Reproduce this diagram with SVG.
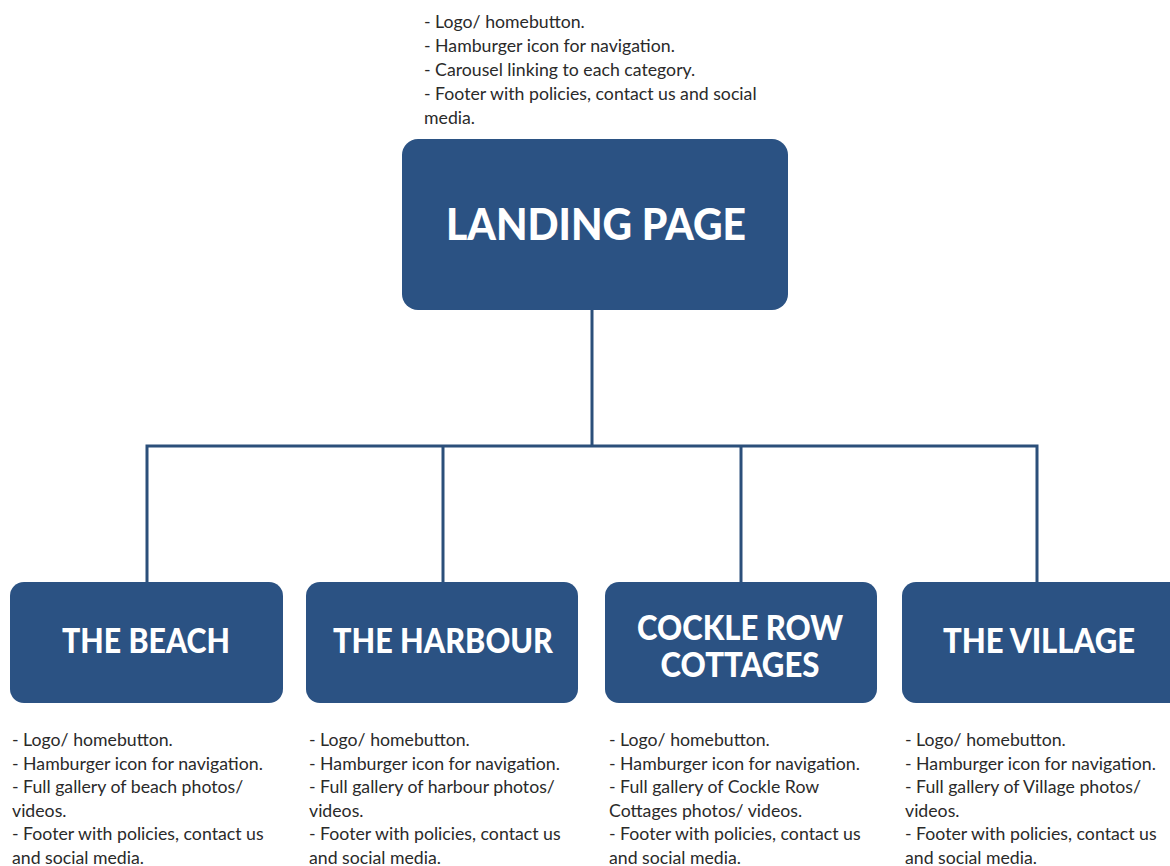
<svg xmlns="http://www.w3.org/2000/svg" width="1170" height="866" viewBox="0 0 1170 866">
  <style>
    .box { fill: #2b5283; }
    .title { fill: #ffffff; font-family: "Lato", "Liberation Sans", sans-serif; font-weight: 900; text-anchor: middle; }
    .note { fill: #2a2a2a; font-family: "Lato", "Liberation Sans", sans-serif; font-size: 17.7px; }
    .link { fill: none; stroke: #2b4f7a; stroke-width: 3; }
  </style>
  <rect width="1170" height="866" fill="#ffffff"/>

  <g id="connectors">
    <path class="link" d="M592 310 V446"/>
    <path class="link" d="M147 582 V446 H1037 V582"/>
    <path class="link" d="M443 446 V582"/>
    <path class="link" d="M741 446 V582"/>
  </g>

  <g id="landing-page">
    <text class="note" x="424">
      <tspan x="424" y="28">- Logo/ homebutton.</tspan>
      <tspan x="424" y="52">- Hamburger icon for navigation.</tspan>
      <tspan x="424" y="76">- Carousel linking to each category.</tspan>
      <tspan x="424" y="100">- Footer with policies, contact us and social</tspan>
      <tspan x="424" y="124">media.</tspan>
    </text>
    <rect class="box" x="402" y="139" width="386" height="171" rx="16"/>
    <text class="title" x="596" y="240" font-size="43" textLength="300" lengthAdjust="spacingAndGlyphs">LANDING PAGE</text>
  </g>

  <g id="the-beach">
    <rect class="box" x="10" y="582" width="273" height="121" rx="14"/>
    <text class="title" x="146" y="653" font-size="35" textLength="168" lengthAdjust="spacingAndGlyphs">THE BEACH</text>
    <text class="note">
      <tspan x="12" y="746">- Logo/ homebutton.</tspan>
      <tspan x="12" y="769.5">- Hamburger icon for navigation.</tspan>
      <tspan x="12" y="793">- Full gallery of beach photos/</tspan>
      <tspan x="12" y="816.5">videos.</tspan>
      <tspan x="12" y="840">- Footer with policies, contact us</tspan>
      <tspan x="12" y="863.5">and social media.</tspan>
    </text>
  </g>

  <g id="the-harbour">
    <rect class="box" x="306" y="582" width="272" height="121" rx="14"/>
    <text class="title" x="443" y="653" font-size="35" textLength="220" lengthAdjust="spacingAndGlyphs">THE HARBOUR</text>
    <text class="note">
      <tspan x="309" y="746">- Logo/ homebutton.</tspan>
      <tspan x="309" y="769.5">- Hamburger icon for navigation.</tspan>
      <tspan x="309" y="793">- Full gallery of harbour photos/</tspan>
      <tspan x="309" y="816.5">videos.</tspan>
      <tspan x="309" y="840">- Footer with policies, contact us</tspan>
      <tspan x="309" y="863.5">and social media.</tspan>
    </text>
  </g>

  <g id="cockle-row-cottages">
    <rect class="box" x="605" y="582" width="272" height="121" rx="14"/>
    <text class="title" x="740" y="640" font-size="34" textLength="206" lengthAdjust="spacingAndGlyphs">COCKLE ROW</text>
    <text class="title" x="740" y="677" font-size="34" textLength="159" lengthAdjust="spacingAndGlyphs">COTTAGES</text>
    <text class="note">
      <tspan x="609" y="746">- Logo/ homebutton.</tspan>
      <tspan x="609" y="769.5">- Hamburger icon for navigation.</tspan>
      <tspan x="609" y="793">- Full gallery of Cockle Row</tspan>
      <tspan x="609" y="816.5">Cottages photos/ videos.</tspan>
      <tspan x="609" y="840">- Footer with policies, contact us</tspan>
      <tspan x="609" y="863.5">and social media.</tspan>
    </text>
  </g>

  <g id="the-village">
    <rect class="box" x="902" y="582" width="282" height="121" rx="14"/>
    <text class="title" x="1039" y="653" font-size="35" textLength="192" lengthAdjust="spacingAndGlyphs">THE VILLAGE</text>
    <text class="note">
      <tspan x="905" y="746">- Logo/ homebutton.</tspan>
      <tspan x="905" y="769.5">- Hamburger icon for navigation.</tspan>
      <tspan x="905" y="793">- Full gallery of Village photos/</tspan>
      <tspan x="905" y="816.5">videos.</tspan>
      <tspan x="905" y="840">- Footer with policies, contact us</tspan>
      <tspan x="905" y="863.5">and social media.</tspan>
    </text>
  </g>
</svg>
